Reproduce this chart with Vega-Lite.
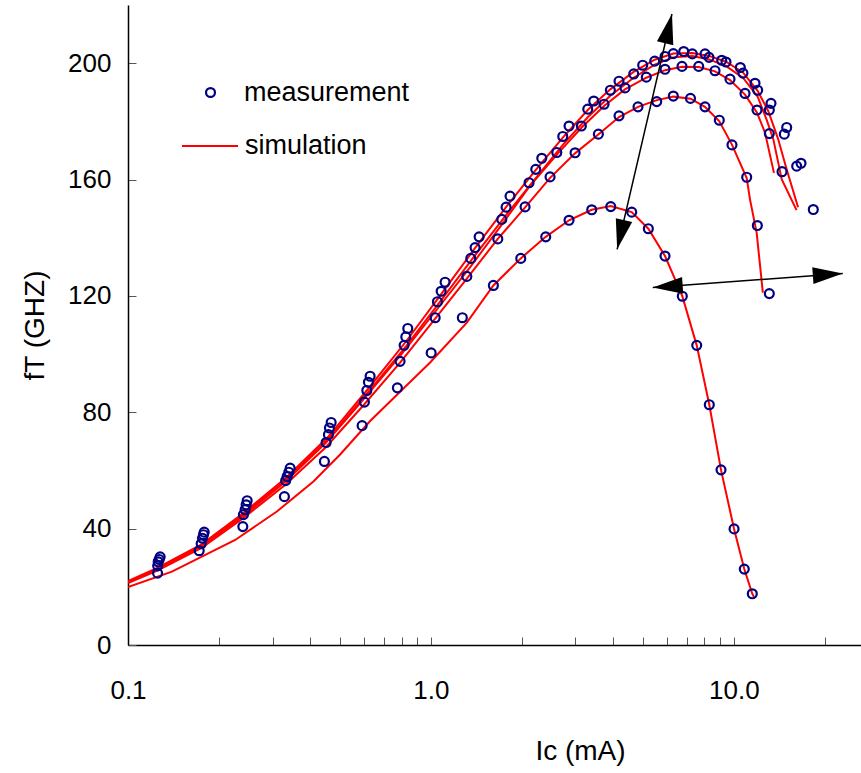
{
  "$schema": "https://vega.github.io/schema/vega-lite/v6.json",
  "width": 733,
  "height": 640,
  "autosize": {"type": "none"},
  "padding": {"left": 128, "top": 5, "right": 0, "bottom": 128},
  "background": "white",
  "config": {
    "view": {"stroke": null},
    "font": "Liberation Sans, sans-serif",
    "axis": {
      "grid": false,
      "domainColor": "black",
      "domainWidth": 1.5,
      "tickColor": "#555555",
      "tickWidth": 1,
      "tickSize": -8,
      "labelFont": "Liberation Sans, sans-serif",
      "labelFontSize": 26,
      "labelColor": "black",
      "titleFont": "Liberation Sans, sans-serif",
      "titleFontSize": 28,
      "titleFontWeight": "normal",
      "titleColor": "black"
    },
    "legend": {
      "labelFont": "Liberation Sans, sans-serif",
      "labelFontSize": 27,
      "labelColor": "black",
      "labelLimit": 500,
      "padding": 0
    }
  },
  "datasets": {
    "meas": [
      {"s": "A", "x": 0.1252, "y": 24.7}, {"s": "A", "x": 0.1718, "y": 32.4}, {"s": "A", "x": 0.2394, "y": 40.7},
      {"s": "A", "x": 0.3284, "y": 51.0}, {"s": "A", "x": 0.4451, "y": 63.1}, {"s": "A", "x": 0.5928, "y": 75.4},
      {"s": "A", "x": 0.7751, "y": 88.4}, {"s": "A", "x": 1.002, "y": 100.4}, {"s": "A", "x": 1.270, "y": 112.5},
      {"s": "A", "x": 1.608, "y": 123.6}, {"s": "A", "x": 1.980, "y": 132.9}, {"s": "A", "x": 2.394, "y": 140.3},
      {"s": "A", "x": 2.858, "y": 146.0}, {"s": "A", "x": 3.396, "y": 149.6}, {"s": "A", "x": 3.924, "y": 150.7},
      {"s": "A", "x": 4.603, "y": 148.8}, {"s": "A", "x": 5.222, "y": 143.1}, {"s": "A", "x": 5.928, "y": 133.7},
      {"s": "A", "x": 6.761, "y": 119.9}, {"s": "A", "x": 7.544, "y": 103.0}, {"s": "A", "x": 8.301, "y": 82.6},
      {"s": "A", "x": 9.074, "y": 60.2}, {"s": "A", "x": 10.02, "y": 39.9}, {"s": "A", "x": 10.83, "y": 26.1},
      {"s": "A", "x": 11.51, "y": 17.6},
      {"s": "B", "x": 0.1253, "y": 27.2}, {"s": "B", "x": 0.1744, "y": 34.8}, {"s": "B", "x": 0.2405, "y": 44.8},
      {"s": "B", "x": 0.3315, "y": 56.5}, {"s": "B", "x": 0.4509, "y": 69.6}, {"s": "B", "x": 0.6033, "y": 83.5},
      {"s": "B", "x": 0.7912, "y": 97.5}, {"s": "B", "x": 1.033, "y": 112.5}, {"s": "B", "x": 1.314, "y": 126.7},
      {"s": "B", "x": 1.663, "y": 139.6}, {"s": "B", "x": 2.046, "y": 150.6}, {"s": "B", "x": 2.474, "y": 160.9},
      {"s": "B", "x": 2.992, "y": 169.2}, {"s": "B", "x": 3.572, "y": 175.6}, {"s": "B", "x": 4.179, "y": 181.9},
      {"s": "B", "x": 4.828, "y": 185.0}, {"s": "B", "x": 5.566, "y": 186.8}, {"s": "B", "x": 6.315, "y": 188.7},
      {"s": "B", "x": 7.195, "y": 187.9}, {"s": "B", "x": 8.035, "y": 185.0}, {"s": "B", "x": 8.957, "y": 180.4},
      {"s": "B", "x": 9.863, "y": 171.9}, {"s": "B", "x": 11.03, "y": 160.8}, {"s": "B", "x": 11.96, "y": 144.2},
      {"s": "B", "x": 13.10, "y": 120.8},
      {"s": "C", "x": 0.1258, "y": 28.6}, {"s": "C", "x": 0.1762, "y": 36.7}, {"s": "C", "x": 0.2436, "y": 46.5},
      {"s": "C", "x": 0.3353, "y": 57.9}, {"s": "C", "x": 0.4589, "y": 72.3}, {"s": "C", "x": 0.6144, "y": 87.5},
      {"s": "C", "x": 0.8158, "y": 103.0}, {"s": "C", "x": 1.051, "y": 118.0}, {"s": "C", "x": 1.354, "y": 132.9},
      {"s": "C", "x": 1.714, "y": 146.3}, {"s": "C", "x": 2.109, "y": 158.9}, {"s": "C", "x": 2.604, "y": 169.3},
      {"s": "C", "x": 3.139, "y": 178.4}, {"s": "C", "x": 3.730, "y": 185.9}, {"s": "C", "x": 4.375, "y": 191.5},
      {"s": "C", "x": 5.143, "y": 195.2}, {"s": "C", "x": 5.928, "y": 197.9}, {"s": "C", "x": 6.745, "y": 198.9},
      {"s": "C", "x": 7.659, "y": 198.9}, {"s": "C", "x": 8.670, "y": 197.4}, {"s": "C", "x": 9.716, "y": 194.5},
      {"s": "C", "x": 10.89, "y": 189.6}, {"s": "C", "x": 11.93, "y": 183.9}, {"s": "C", "x": 13.10, "y": 175.8},
      {"s": "C", "x": 14.43, "y": 162.7},
      {"s": "D", "x": 0.1268, "y": 29.4}, {"s": "D", "x": 0.1775, "y": 37.9}, {"s": "D", "x": 0.2455, "y": 48.2},
      {"s": "D", "x": 0.3396, "y": 59.4}, {"s": "D", "x": 0.4624, "y": 74.6}, {"s": "D", "x": 0.6219, "y": 90.3},
      {"s": "D", "x": 0.8263, "y": 105.9}, {"s": "D", "x": 1.081, "y": 121.6}, {"s": "D", "x": 1.399, "y": 136.6},
      {"s": "D", "x": 1.771, "y": 150.5}, {"s": "D", "x": 2.219, "y": 163.5}, {"s": "D", "x": 2.725, "y": 174.8},
      {"s": "D", "x": 3.295, "y": 184.2}, {"s": "D", "x": 3.913, "y": 190.7}, {"s": "D", "x": 4.674, "y": 196.3},
      {"s": "D", "x": 5.482, "y": 200.7}, {"s": "D", "x": 6.315, "y": 203.3}, {"s": "D", "x": 7.295, "y": 203.2},
      {"s": "D", "x": 8.283, "y": 202.0}, {"s": "D", "x": 9.425, "y": 200.4}, {"s": "D", "x": 10.72, "y": 196.6},
      {"s": "D", "x": 11.99, "y": 190.7}, {"s": "D", "x": 13.10, "y": 183.9}, {"s": "D", "x": 14.68, "y": 175.6},
      {"s": "D", "x": 16.13, "y": 164.6},
      {"s": "E", "x": 0.1277, "y": 30.3}, {"s": "E", "x": 0.1785, "y": 38.8}, {"s": "E", "x": 0.2474, "y": 49.6},
      {"s": "E", "x": 0.3430, "y": 60.8}, {"s": "E", "x": 0.4685, "y": 76.5}, {"s": "E", "x": 0.6300, "y": 92.4},
      {"s": "E", "x": 0.8388, "y": 108.8}, {"s": "E", "x": 1.114, "y": 124.7}, {"s": "E", "x": 1.443, "y": 140.3},
      {"s": "E", "x": 1.825, "y": 154.3}, {"s": "E", "x": 2.323, "y": 167.3}, {"s": "E", "x": 2.858, "y": 178.4},
      {"s": "E", "x": 3.449, "y": 187.0}, {"s": "E", "x": 4.179, "y": 193.8}, {"s": "E", "x": 5.003, "y": 199.3},
      {"s": "E", "x": 5.928, "y": 202.3}, {"s": "E", "x": 6.834, "y": 204.0}, {"s": "E", "x": 8.035, "y": 203.2},
      {"s": "E", "x": 9.123, "y": 201.0}, {"s": "E", "x": 10.51, "y": 198.5}, {"s": "E", "x": 11.75, "y": 193.1},
      {"s": "E", "x": 13.27, "y": 186.2}, {"s": "E", "x": 14.95, "y": 177.9}, {"s": "E", "x": 16.67, "y": 165.6},
      {"s": "E", "x": 18.30, "y": 149.7}
    ],
    "sim": [
      {"s": "A", "x": 0.1, "y": 19.9}, {"s": "A", "x": 0.1396, "y": 25.2}, {"s": "A", "x": 0.2259, "y": 36.1},
      {"s": "A", "x": 0.3101, "y": 45.9}, {"s": "A", "x": 0.4094, "y": 56.2}, {"s": "A", "x": 0.5016, "y": 65.5},
      {"s": "A", "x": 0.63, "y": 77.0}, {"s": "A", "x": 0.994, "y": 97.1},
      {"s": "A", "x": 1.314, "y": 110.8}, {"s": "A", "x": 1.608, "y": 123.6}, {"s": "A", "x": 1.98, "y": 132.9},
      {"s": "A", "x": 2.394, "y": 140.3}, {"s": "A", "x": 2.858, "y": 146.0}, {"s": "A", "x": 3.396, "y": 149.6},
      {"s": "A", "x": 3.924, "y": 150.9}, {"s": "A", "x": 4.603, "y": 148.8}, {"s": "A", "x": 5.222, "y": 143.1},
      {"s": "A", "x": 5.928, "y": 133.7}, {"s": "A", "x": 6.761, "y": 119.9}, {"s": "A", "x": 7.544, "y": 103.0},
      {"s": "A", "x": 8.301, "y": 82.6}, {"s": "A", "x": 9.074, "y": 60.2}, {"s": "A", "x": 10.02, "y": 39.9},
      {"s": "A", "x": 10.83, "y": 26.1}, {"s": "A", "x": 11.51, "y": 17.6}, {"s": "A", "x": 11.66, "y": 16.5},
      {"s": "B", "x": 0.1, "y": 21.3}, {"s": "B", "x": 0.125, "y": 25.6}, {"s": "B", "x": 0.175, "y": 33.4},
      {"s": "B", "x": 0.24, "y": 43.6}, {"s": "B", "x": 0.33, "y": 55.0}, {"s": "B", "x": 0.45, "y": 68.0},
      {"s": "B", "x": 0.6, "y": 82.5}, {"s": "B", "x": 0.79, "y": 97.0}, {"s": "B", "x": 1.03, "y": 112.0},
      {"s": "B", "x": 1.31, "y": 125.8}, {"s": "B", "x": 1.66, "y": 139.5}, {"s": "B", "x": 2.05, "y": 150.5},
      {"s": "B", "x": 2.47, "y": 160.5}, {"s": "B", "x": 2.99, "y": 169.0}, {"s": "B", "x": 3.57, "y": 175.5},
      {"s": "B", "x": 4.18, "y": 181.5}, {"s": "B", "x": 4.83, "y": 185.0}, {"s": "B", "x": 5.57, "y": 187.3},
      {"s": "B", "x": 6.32, "y": 188.5}, {"s": "B", "x": 7.2, "y": 187.8}, {"s": "B", "x": 8.03, "y": 185.0},
      {"s": "B", "x": 8.96, "y": 180.0}, {"s": "B", "x": 9.86, "y": 172.0}, {"s": "B", "x": 11.03, "y": 160.5},
      {"s": "B", "x": 11.31, "y": 153.2}, {"s": "B", "x": 11.9, "y": 141.7}, {"s": "B", "x": 12.47, "y": 121.1},
      {"s": "C", "x": 0.1, "y": 21.6}, {"s": "C", "x": 0.125, "y": 26.0}, {"s": "C", "x": 0.175, "y": 34.0},
      {"s": "C", "x": 0.24, "y": 44.3}, {"s": "C", "x": 0.33, "y": 56.0}, {"s": "C", "x": 0.45, "y": 69.5},
      {"s": "C", "x": 0.6, "y": 84.5}, {"s": "C", "x": 0.8, "y": 100.0}, {"s": "C", "x": 1.05, "y": 115.5},
      {"s": "C", "x": 1.35, "y": 130.0}, {"s": "C", "x": 1.7, "y": 144.0}, {"s": "C", "x": 2.11, "y": 157.5},
      {"s": "C", "x": 2.6, "y": 168.5}, {"s": "C", "x": 3.14, "y": 177.8}, {"s": "C", "x": 3.73, "y": 185.3},
      {"s": "C", "x": 4.37, "y": 191.0}, {"s": "C", "x": 5.14, "y": 195.0}, {"s": "C", "x": 5.93, "y": 197.6},
      {"s": "C", "x": 6.75, "y": 198.8}, {"s": "C", "x": 7.66, "y": 198.7}, {"s": "C", "x": 8.67, "y": 197.2},
      {"s": "C", "x": 9.72, "y": 194.2}, {"s": "C", "x": 10.89, "y": 189.2}, {"s": "C", "x": 11.93, "y": 183.0},
      {"s": "C", "x": 12.68, "y": 176.1}, {"s": "C", "x": 13.57, "y": 162.3},
      {"s": "D", "x": 0.1, "y": 21.8}, {"s": "D", "x": 0.125, "y": 26.2}, {"s": "D", "x": 0.175, "y": 34.3},
      {"s": "D", "x": 0.24, "y": 44.8}, {"s": "D", "x": 0.33, "y": 56.6}, {"s": "D", "x": 0.46, "y": 71.0},
      {"s": "D", "x": 0.62, "y": 86.8}, {"s": "D", "x": 0.83, "y": 102.8}, {"s": "D", "x": 1.08, "y": 118.5},
      {"s": "D", "x": 1.4, "y": 134.0}, {"s": "D", "x": 1.77, "y": 147.8}, {"s": "D", "x": 2.22, "y": 160.5},
      {"s": "D", "x": 2.73, "y": 172.0}, {"s": "D", "x": 3.3, "y": 181.5}, {"s": "D", "x": 3.91, "y": 188.8},
      {"s": "D", "x": 4.67, "y": 195.0}, {"s": "D", "x": 5.48, "y": 199.5}, {"s": "D", "x": 6.32, "y": 202.0},
      {"s": "D", "x": 7.3, "y": 202.5}, {"s": "D", "x": 8.28, "y": 201.3}, {"s": "D", "x": 9.43, "y": 199.0},
      {"s": "D", "x": 10.72, "y": 195.0}, {"s": "D", "x": 11.99, "y": 188.5}, {"s": "D", "x": 12.85, "y": 180.4},
      {"s": "D", "x": 13.51, "y": 173.8}, {"s": "D", "x": 14.39, "y": 160.1}, {"s": "D", "x": 16.11, "y": 149.5},
      {"s": "E", "x": 0.1, "y": 22.0}, {"s": "E", "x": 0.125, "y": 26.5}, {"s": "E", "x": 0.175, "y": 34.6},
      {"s": "E", "x": 0.24, "y": 45.3}, {"s": "E", "x": 0.33, "y": 57.2}, {"s": "E", "x": 0.46, "y": 71.8},
      {"s": "E", "x": 0.62, "y": 88.0}, {"s": "E", "x": 0.83, "y": 104.5}, {"s": "E", "x": 1.08, "y": 120.5},
      {"s": "E", "x": 1.4, "y": 136.5}, {"s": "E", "x": 1.77, "y": 150.5}, {"s": "E", "x": 2.22, "y": 163.3},
      {"s": "E", "x": 2.73, "y": 174.5}, {"s": "E", "x": 3.3, "y": 184.0}, {"s": "E", "x": 3.91, "y": 191.0},
      {"s": "E", "x": 4.67, "y": 197.0}, {"s": "E", "x": 5.48, "y": 201.2}, {"s": "E", "x": 6.32, "y": 203.3},
      {"s": "E", "x": 7.3, "y": 203.5}, {"s": "E", "x": 8.28, "y": 202.5}, {"s": "E", "x": 9.43, "y": 200.5},
      {"s": "E", "x": 10.72, "y": 196.8}, {"s": "E", "x": 11.99, "y": 190.5}, {"s": "E", "x": 13.0, "y": 183.5},
      {"s": "E", "x": 14.0, "y": 174.0}, {"s": "E", "x": 14.9, "y": 164.0}, {"s": "E", "x": 16.3, "y": 150.5}
    ],
    "arrows": [
      {"x1": 4.12, "y1": 136.0, "x2": 6.25, "y2": 216.9},
      {"x1": 5.40, "y1": 122.9, "x2": 22.9, "y2": 127.7}
    ],
    "heads": [
      {"x": 6.25, "y": 216.9, "a": 13.2},
      {"x": 4.12, "y": 136.0, "a": 193.2},
      {"x": 22.9, "y": 127.7, "a": 85.8},
      {"x": 5.40, "y": 122.9, "a": 265.8}
    ]
  },
  "layer": [
    {
      "data": {"name": "sim"},
      "mark": {"type": "line", "strokeWidth": 2, "clip": true},
      "encoding": {
        "x": {
          "field": "x", "type": "quantitative",
          "scale": {"type": "log", "domain": [0.1, 26.3], "nice": false},
          "axis": {
            "values": [0.1, 0.2, 0.3, 0.4, 0.5, 0.6, 0.7, 0.8, 0.9, 1, 2, 3, 4, 5, 6, 7, 8, 9, 10, 20],
            "labelExpr": "datum.value == 0.1 || datum.value == 1 || datum.value == 10 ? format(datum.value, '.1f') : ''",
            "labelPadding": 40,
            "labelFlush": false,
            "labelOverlap": false,
            "title": "Ic (mA)",
            "titleX": 452,
            "titleY": 106,
            "titleBaseline": "middle",
            "titleAlign": "center"
          }
        },
        "y": {
          "field": "y", "type": "quantitative",
          "scale": {"domain": [0, 220], "nice": false},
          "axis": {
            "values": [0, 40, 80, 120, 160, 200],
            "labelPadding": 25,
            "title": "fT (GHZ)",
            "titleAngle": -90,
            "titleX": -93,
            "titleY": 320,
            "titleAlign": "center",
            "titleBaseline": "middle"
          }
        },
        "detail": {"field": "s"},
        "stroke": {
          "datum": "simulation",
          "scale": {"domain": ["simulation"], "range": ["#ff0000"]},
          "legend": {
            "orient": "none",
            "legendX": 53,
            "legendY": 112,
            "title": null,
            "symbolType": "stroke",
            "symbolSize": 3136,
            "symbolStrokeWidth": 2,
            "labelOffset": 6
          }
        }
      }
    },
    {
      "data": {"name": "meas"},
      "mark": {"type": "point", "filled": false, "color": "#000080", "strokeWidth": 2.2, "size": 80, "opacity": 1},
      "encoding": {
        "x": {"field": "x", "type": "quantitative"},
        "y": {"field": "y", "type": "quantitative"},
        "detail": {"field": "s"},
        "shape": {
          "datum": "measurement",
          "scale": {"domain": ["measurement"], "range": ["circle"]},
          "legend": {
            "orient": "none",
            "legendX": 69,
            "legendY": 74,
            "title": null,
            "symbolSize": 80,
            "symbolStrokeWidth": 2.2,
            "symbolStrokeColor": "#000080",
            "symbolFillColor": "transparent",
            "labelOffset": 20
          }
        }
      }
    },
    {
      "mark": {"type": "rule", "color": "#404040", "strokeWidth": 1.5},
      "encoding": {"y": {"datum": 220}}
    },
    {
      "data": {"name": "arrows"},
      "mark": {"type": "rule", "color": "black", "strokeWidth": 1.5},
      "encoding": {
        "x": {"field": "x1", "type": "quantitative"},
        "y": {"field": "y1", "type": "quantitative"},
        "x2": {"field": "x2"},
        "y2": {"field": "y2"}
      }
    },
    {
      "data": {"name": "heads"},
      "mark": {"type": "point", "shape": "M0,0L-0.28,1L0.28,1Z", "filled": true, "color": "black", "size": 3600, "opacity": 1, "strokeWidth": 0},
      "encoding": {
        "x": {"field": "x", "type": "quantitative"},
        "y": {"field": "y", "type": "quantitative"},
        "angle": {"field": "a", "type": "quantitative", "scale": null}
      }
    }
  ]
}
